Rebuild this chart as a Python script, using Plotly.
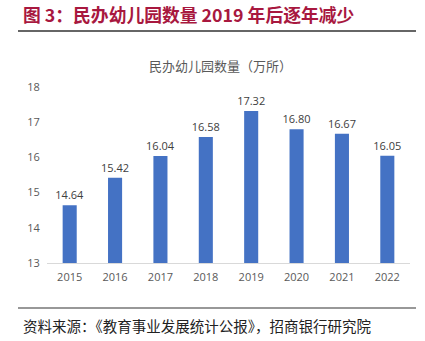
import plotly.graph_objects as go

years = ["2015", "2016", "2017", "2018", "2019", "2020", "2021", "2022"]
values = [14.64, 15.42, 16.04, 16.58, 17.32, 16.80, 16.67, 16.05]
y_ticks = [13, 14, 15, 16, 17, 18]

W, H = 425, 341
L, R, T, B = 47, 15, 87, 78

fig = go.Figure()
fig.add_trace(go.Bar(
    x=years, y=values,
    marker=dict(color="#4472C4", line=dict(width=0)),
    text=[f"{v:.2f}" for v in values],
    textposition="outside",
    constraintext="none",
    textfont=dict(size=11, color="#404040", family="Open Sans, Noto Sans CJK SC"),
    cliponaxis=False,
    width=0.31,
))

def px_x(x):
    return (x - L) / (W - L - R)

def px_y(y):
    return (H - B - y) / (H - T - B)

fig.update_layout(
    width=W, height=H,
    margin=dict(l=L, r=R, t=T, b=B),
    paper_bgcolor="white", plot_bgcolor="white",
    showlegend=False,
    font=dict(family="Noto Sans CJK SC, Open Sans", color="#595959"),
    xaxis=dict(
        type="category", showgrid=False, zeroline=False,
        showline=True, linecolor="#D9D9D9", linewidth=1,
        ticks="outside", ticklen=4, tickcolor="rgba(0,0,0,0)",
        tickfont=dict(size=11, color="#595959", family="Open Sans"),
    ),
    yaxis=dict(
        range=[13, 18], tickvals=y_ticks, showgrid=False, zeroline=False,
        showline=False, ticks="outside", ticklen=4, tickcolor="rgba(0,0,0,0)",
        tickfont=dict(size=11, color="#595959", family="Open Sans"),
    ),
    shapes=[
        dict(type="line", xref="paper", yref="paper",
             x0=px_x(18), x1=px_x(416), y0=px_y(31), y1=px_y(31),
             line=dict(color="#333333", width=1.5)),
        dict(type="line", xref="paper", yref="paper",
             x0=px_x(18), x1=px_x(416), y0=px_y(308), y1=px_y(308),
             line=dict(color="#333333", width=1.2)),
    ],
    annotations=[
        dict(text="<b>图 3：民办幼儿园数量 2019 年后逐年减少</b>", xref="paper", yref="paper",
             x=px_x(21), y=px_y(14), xanchor="left", yanchor="middle", showarrow=False,
             font=dict(size=17.8, color="#A8183F", family="Noto Sans CJK SC")),
        dict(text="民办幼儿园数量（万所）", xref="paper", yref="paper",
             x=px_x(220), y=px_y(66), xanchor="center", yanchor="middle", showarrow=False,
             font=dict(size=13, color="#595959", family="Noto Sans CJK SC")),
        dict(text="资料来源：《教育事业发展统计公报》，招商银行研究院", xref="paper", yref="paper",
             x=px_x(21), y=px_y(325), xanchor="left", yanchor="middle", showarrow=False,
             font=dict(size=14.5, color="#222222", family="Noto Sans CJK SC")),
    ],
)

fig.write_html("out.html")
